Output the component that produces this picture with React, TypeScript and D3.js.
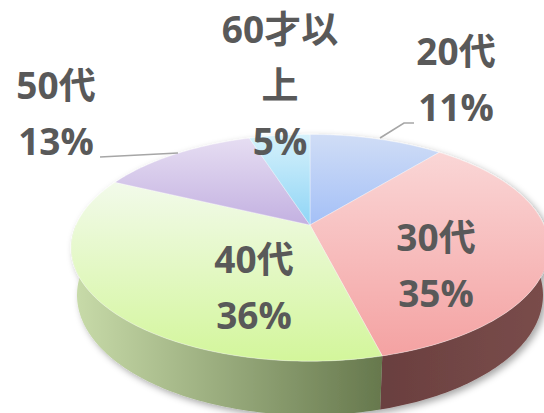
import React from "react";
import * as d3 from "d3";

// Age breakdown (percent)
const categories = ["20代", "30代", "40代", "50代", "60才以上"];
const values = [11, 35, 36, 13, 5];

// Top face gradient stops per slice (rim -> centre)
const topStops = [
  ["#d0ddf6", "#a4c0f7"],
  ["#fad6d6", "#f4a2a2"],
  ["#f2faea", "#d3f69b"],
  ["#e6ddf2", "#c3b1e1"],
  ["#d6f1fb", "#8fd5f6"],
];
// Side wall gradient stops per slice (left -> right)
const sideStops = [
  ["#5f6f9a", "#53618a"],
  ["#6a3f3f", "#7a4d4b"],
  ["#c9dcaa", "#66784d"],
  ["#8c80a6", "#7b6f95"],
  ["#6aa0b8", "#5b8ea6"],
];

// Label layout: text centre x and first-line baseline, plus leader lines
const labelPos: [number, number][] = [
  [456, 65],
  [436, 251],
  [254, 273],
  [56, 99],
  [280, 43],
];
const leaders: [number, number][][] = [
  [[380, 138], [404, 123], [414, 123]],
  [],
  [],
  [[100, 157], [178, 153]],
  [],
];

const W = 544;
const H = 413;

// 3D projection of a disc lying flat, camera tilted down towards it
const cx = 310;
const cy = 225;
const S = 234;
const sinP = 0.465;
const cosP = Math.sqrt(1 - sinP * sinP);
const D = 4.4;
const k = cosP / D;
const tanP = sinP / cosP;
const thick = 0.23;

function proj(theta: number, r: number, Y: number): [number, number] {
  const X = r * Math.sin(theta);
  const Z = -r * Math.cos(theta);
  const sc = 1 / (1 - k * Z - k * Y * tanP);
  return [cx + S * X * sc, cy - S * (Y * cosP - Z * sinP) * sc];
}

function arcPts(a0: number, a1: number, Y: number): [number, number][] {
  const n = Math.max(2, Math.ceil(((a1 - a0) / Math.PI) * 180));
  return d3.range(n + 1).map((i) => proj(a0 + ((a1 - a0) * i) / n, 1, Y));
}

const line = d3.line<[number, number]>().curve(d3.curveLinear);

function wrap(name: string): string[] {
  const out: string[] = [];
  for (let i = 0; i < name.length; i += 4) out.push(name.slice(i, i + 4));
  return out;
}

export default function App() {
  const arcs = d3
    .pie<number>()
    .sort(null)
    .startAngle(0)
    .endAngle(2 * Math.PI)(values);

  const apex = proj(0, 0, 0);
  const lo = Math.PI / 2;
  const hi = (3 * Math.PI) / 2;

  const walls = arcs
    .map((a, i) => {
      const a0 = Math.max(a.startAngle, lo);
      const a1 = Math.min(a.endAngle, hi);
      if (a1 <= a0) return null;
      const topEdge = arcPts(a0, a1, 0);
      const botEdge = arcPts(a0, a1, -thick).reverse();
      return { i, d: line([...topEdge, ...botEdge])! + "Z" };
    })
    .filter(Boolean) as { i: number; d: string }[];

  const tops = arcs.map((a, i) => ({
    i,
    d: line([apex, ...arcPts(a.startAngle, a.endAngle, 0)])! + "Z",
  }));

  const fs = 37;
  const lh = 56;

  return (
    <svg width={W} height={H} style={{ display: "block", position: "absolute", left: 0, top: 0 }}>
      <defs>
        {topStops.map((c, i) => (
          <linearGradient key={"t" + i} id={"top" + i} x1="0" y1="0" x2="0" y2="1">
            <stop offset="0" stopColor={c[0]} />
            <stop offset="1" stopColor={c[1]} />
          </linearGradient>
        ))}
        {sideStops.map((c, i) => (
          <linearGradient key={"s" + i} id={"side" + i} x1="0" y1="0" x2="1" y2="0">
            <stop offset="0" stopColor={c[0]} />
            <stop offset="1" stopColor={c[1]} />
          </linearGradient>
        ))}
        <filter id="shadow" x="-10%" y="-10%" width="120%" height="130%">
          <feGaussianBlur in="SourceAlpha" stdDeviation="3.5" />
          <feOffset dx="3" dy="3" result="b" />
          <feFlood floodColor="#000" floodOpacity="0.35" />
          <feComposite in2="b" operator="in" />
          <feMerge>
            <feMergeNode />
            <feMergeNode in="SourceGraphic" />
          </feMerge>
        </filter>
      </defs>
      <rect width={W} height={H} fill="#ffffff" />
      <g filter="url(#shadow)">
        {walls.map((w) => (
          <path key={"w" + w.i} d={w.d} fill={`url(#side${w.i})`} />
        ))}
        {tops.map((t) => (
          <path
            key={"p" + t.i}
            d={t.d}
            fill={`url(#top${t.i})`}
            stroke="#ffffff"
            strokeOpacity={0.45}
            strokeWidth={0.8}
            strokeLinejoin="round"
          />
        ))}
      </g>
      {leaders.map((pts, i) =>
        pts.length ? (
          <path key={"l" + i} d={line(pts)!} fill="none" stroke="#a6a6a6" strokeWidth={1.6} />
        ) : null
      )}
      <g
        fontFamily="'Open Sans', 'Noto Sans CJK JP', sans-serif"
        fontWeight="bold"
        fontSize={fs}
        fill="#595959"
        textAnchor="middle"
      >
        {categories.map((c, i) => {
          const lines = [...wrap(c), `${values[i]}%`];
          const [x, y] = labelPos[i];
          return (
            <text key={"x" + i}>
              {lines.map((t, j) => (
                <tspan key={j} x={x} y={y + j * lh}>
                  {t}
                </tspan>
              ))}
            </text>
          );
        })}
      </g>
    </svg>
  );
}
